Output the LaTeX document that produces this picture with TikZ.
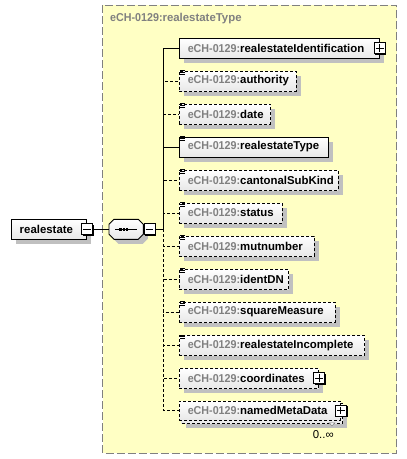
\documentclass[tikz,border=0pt]{standalone}
\usepackage{fontspec}
\setmainfont{Liberation Sans}
\usetikzlibrary{shadows}
\definecolor{ybg}{RGB}{255,255,196}
\definecolor{pfx}{RGB}{128,128,128}
\definecolor{shd}{RGB}{192,192,192}
\tikzset{
  lbl/.style={font=\fontsize{11.4}{13}\selectfont\bfseries},
  ebox/.style={lbl, draw=black, line width=0.9pt, minimum height=20pt, inner ysep=0pt, inner xsep=8.6pt,
    anchor=west, top color=white, bottom color=black!9, align=left},
  shad/.style={drop shadow={shadow xshift=4.5pt, shadow yshift=-4.5pt, fill=shd, opacity=1}},
  opt/.style={dash pattern=on 3pt off 2pt},
  conn/.style={draw=black, line width=0.9pt},
  pmbox/.style={draw=black, line width=0.9pt, fill=white, minimum size=11pt, inner sep=0pt,
    drop shadow={shadow xshift=1.2pt, shadow yshift=-1.2pt, fill=black, opacity=1}},
  simp/.style={line width=0.8pt},
}
\newcommand\pfxtext{\textcolor{pfx}{\scalebox{0.94}[1]{eCH-0129:}}}
\newcommand\elemnode[5]{%
  \node[ebox,#5,text width=#3pt] (#1) at (178.7,-#2) {\mbox{\pfxtext#4}};}
\newcommand\simpicon[1]{%
  \draw[simp] ([xshift=1.5pt,yshift=-0.2pt]#1.north west) -- ++(5,0);
  \draw[simp] ([xshift=1.5pt,yshift=-2.0pt]#1.north west) -- ++(5,0);
  \draw[simp] ([xshift=1.5pt,yshift=-3.8pt]#1.north west) -- ++(5,0);}
\newcommand\plusbox[2]{%
  \node[pmbox] (#1) at (#2) {};
  \draw[line width=0.9pt] ([xshift=2pt]#1.west) -- ([xshift=-2pt]#1.east);
  \draw[line width=0.9pt] ([yshift=-2pt]#1.north) -- ([yshift=2pt]#1.south);}
\newcommand\minusbox[3]{%
  \node[pmbox,#3] (#1) at (#2) {};
  \draw[line width=0.9pt] ([xshift=2pt]#1.west) -- ([xshift=-2pt]#1.east);}
\begin{document}
\begin{tikzpicture}[x=1pt,y=1pt]
\useasboundingbox (0,0) rectangle (407,-459);
% complex type box
\draw[draw=pfx, fill=ybg, line width=1.2pt, dash pattern=on 8pt off 3pt] (102.7,-5.3) rectangle (396.7,-453.3);
\node[lbl, text=pfx, anchor=west, inner sep=0pt] (title) at (110,-19) {\scalebox{0.94}[1]{eCH-0129:}realestateType};
% root element
\node[ebox,shad,text width=58.1pt] (root) at (10.7,-229.3) {realestate};
\minusbox{rm}{root.east}{}
% sequence compositor
\path[draw=black, line width=0.9pt, top color=white, bottom color=black!9, shad]
  (114,-219.3) -- (138.3,-219.3) -- (143.3,-224.3) -- (143.3,-234.3) -- (138.3,-239.3)
  -- (114,-239.3) -- (109,-234.3) -- (109,-224.3) -- cycle;
\node[minimum width=34.3pt, minimum height=20pt, inner sep=0pt] (seq) at (126.15,-229.3) {};
\draw[line width=1pt] (115,-229.3) -- (137.3,-229.3);
\fill (119.3,-230.5) rectangle ++(2.4,2.4);
\fill (122.5,-230.5) rectangle ++(2.4,2.4);
\fill (125.7,-230.5) rectangle ++(2.4,2.4);
\minusbox{sm}{seq.east}{anchor=west}
\coordinate (tr) at (163.3,-229.3);
% elements
\elemnode{e1}{48.3}{182.8}{realestateIdentification}{shad}
\elemnode{e2}{81}{99.8}{authority}{shad,opt}
\elemnode{e3}{114}{74.1}{date}{shad,opt}
\elemnode{e4}{147}{132.4}{realestateType}{shad}
\elemnode{e5}{180}{141.8}{cantonalSubKind}{shad,opt}
\elemnode{e6}{213}{85.8}{status}{shad,opt}
\elemnode{e7}{246}{117.8}{mutnumber}{shad,opt}
\elemnode{e8}{279}{92.4}{identDN}{shad,opt}
\elemnode{e9}{312}{138.8}{squareMeasure}{shad,opt}
\elemnode{e10}{345.3}{168.4}{realestateIncomplete}{shad,opt}
\elemnode{e11}{378.3}{122.4}{coordinates}{shad,opt}
% namedMetaData (repeated element)
\path[draw=black, line width=0.9pt, opt, top color=white, bottom color=black!9, shad] (181.4,-403.4) rectangle (342.8,-423);
\node[ebox,opt,minimum height=19pt,text width=144.1pt] (e12) at (178.7,-410.5) {\mbox{\pfxtext namedMetaData}};
\simpicon{e2}\simpicon{e3}\simpicon{e4}\simpicon{e5}\simpicon{e6}\simpicon{e7}\simpicon{e8}\simpicon{e9}\simpicon{e10}
\plusbox{p1}{e1.east}
\plusbox{p11}{e11.east}
\plusbox{p12}{e12.east}
\draw[draw=pfx, fill=white, line width=0.6pt] (329,-422.8) -- (335,-422.8) -- (332,-425.8) -- cycle;
\node[font=\fontsize{11.4}{13}\selectfont, inner sep=0pt] (card) at (323.3,-435) {0..∞};
% connectors
\draw[conn] (rm.east) -- (seq.west);
\draw[conn] (sm.east) -- (tr);
\draw[conn] (tr) |- (e1.west);
\draw[conn] (tr) |- (e4.west);
\foreach \e in {e2,e3,e5,e6,e7,e8,e9,e10,e11,e12} {\draw[conn,opt] (tr) |- (\e.west);}
\end{tikzpicture}
\end{document}
